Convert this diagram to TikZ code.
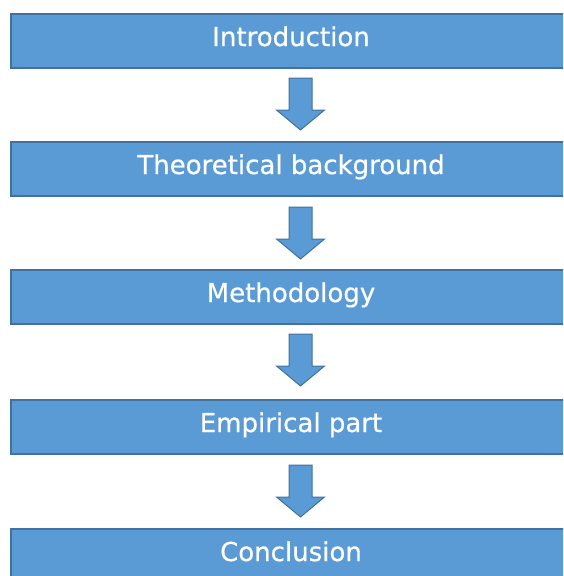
\documentclass[tikz,border=0pt]{standalone}
\usepackage{fontspec}
\setmainfont{DejaVu Sans}
\newfontfamily\stagefont[FakeBold=0.6]{DejaVu Sans}
\definecolor{boxfill}{HTML}{5B9BD5}
\definecolor{boxline}{HTML}{41719C}
\begin{document}
\begin{tikzpicture}[x=1pt,y=-1pt,
  stage/.style={draw=boxline, line width=1.5pt, fill=boxfill,
    minimum width=560pt, minimum height=54pt, inner sep=0pt,
    text height=19pt, text depth=9pt,
    text=white, font=\stagefont\fontsize{26}{30}\selectfont},
  downarrow/.pic={
    \filldraw[fill=boxfill, draw=boxline, line width=1pt, line join=miter]
      (-11.5,0) -- (11.5,0) -- (11.5,32) -- (24,32) -- (0,52)
      -- (-24,32) -- (-11.5,32) -- cycle;}]
\useasboundingbox (0,0) rectangle (563,576);
\clip (0,0) rectangle (563,576);

% the five stages
\node[stage] (intro)  at (291,41)  {Introduction};
\node[stage] (theory) at (291,169) {Theoretical background};
\node[stage] (method) at (291,297) {Methodology};
\node[stage] (empir)  at (291,427) {Empirical part};
\node[stage] (concl)  at (291,556) {Conclusion};

% block arrows between consecutive stages
\pic at (300.5,78)  {downarrow};
\pic at (300.5,207) {downarrow};
\pic at (300.5,334) {downarrow};
\pic at (300.5,465) {downarrow};
\end{tikzpicture}
\end{document}
